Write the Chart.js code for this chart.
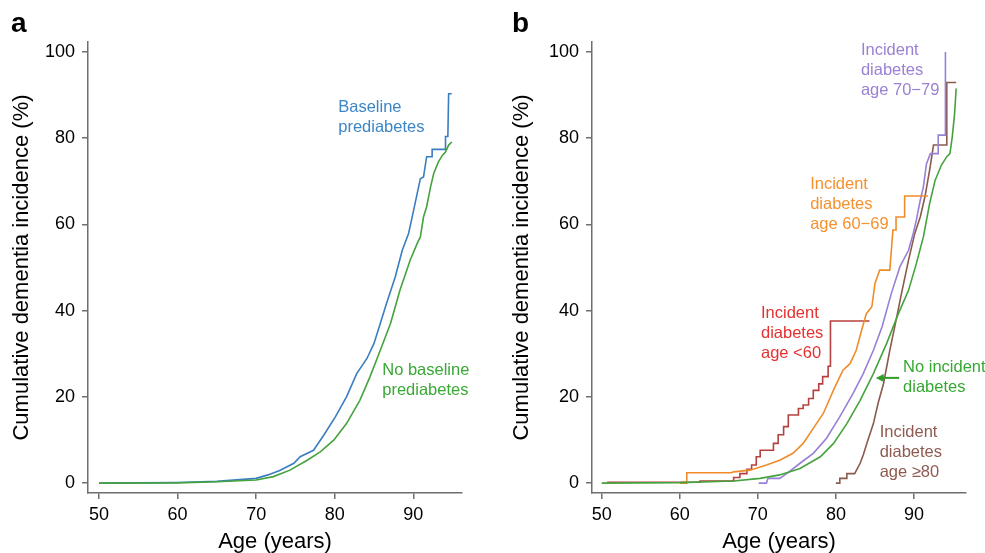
<!DOCTYPE html>
<html>
<head>
<meta charset="utf-8">
<script src="https://cdn.jsdelivr.net/npm/chart.js@4.4.1/dist/chart.umd.min.js"></script>
<style>
  html, body { margin: 0; padding: 0; background: #fff; }
  #wrap { position: relative; width: 985px; height: 553px; overflow: hidden; font-family: "Liberation Sans", Arial, sans-serif; }
  canvas { position: absolute; top: 0; }
  .tag { position: absolute; font-weight: bold; font-size: 28px; line-height: 28px; color: #000; }
</style>
</head>
<body>
<div id="wrap">
  <canvas id="pa" width="492" height="553" style="left:0"></canvas>
  <canvas id="pb" width="485" height="553" style="left:500px"></canvas>
  <div class="tag" style="left:11px;top:9px">a</div>
  <div class="tag" style="left:512px;top:9px">b</div>
</div>
<script>
/* ---- datos (edad en años, incidencia acumulada en %) ---- */
const ageTicks = [50, 60, 70, 80, 90];
const incTicks = [0, 20, 40, 60, 80, 100];

// panel a
const agePreA = [50, 60, 65, 70, 71.5, 73, 74.8, 75.6, 77.3, 78.6, 80.1, 81.5, 82.8, 84.1, 85, 85.8, 86.6, 87.7, 88.6, 89.4, 90, 90.5, 90.9, 91.3, 91.7, 92.4, 92.4, 94.1, 94.1, 94.4, 94.5, 94.9];
const incPreA = [0, 0.15, 0.4, 1.1, 1.9, 2.9, 4.6, 6.1, 7.6, 11.1, 15.4, 20, 25.4, 28.9, 32.4, 37, 41.7, 47.8, 54, 57.9, 62.9, 67.2, 70.6, 71, 75.7, 75.7, 77.4, 77.4, 80.4, 80.4, 90.3, 90.3];
const ageNoPreA = [50, 60, 65, 70, 72.2, 74.3, 76.5, 78.2, 79.9, 81.5, 83.2, 84.5, 85.8, 87.1, 88.3, 89.6, 90.5, 90.9, 91.3, 91.7, 92.2, 92.6, 93.2, 93.7, 94.1, 94.5, 94.9];
const incNoPreA = [0, 0.05, 0.3, 0.7, 1.5, 3, 5.3, 7.3, 10, 13.8, 19.2, 24.7, 30.8, 37, 44.7, 51.7, 55.6, 57.1, 61.7, 64.1, 68.7, 71.8, 74.5, 76, 76.8, 78.4, 79.1];

// panel b
const ageNone = [50, 60, 66.9, 70.3, 72.8, 75.4, 78, 79.7, 81.4, 83.1, 84.8, 86.5, 88, 89.3, 90.3, 91.2, 92, 92.7, 93.5, 94.2, 94.6, 94.9, 95.2, 95.4];
const incNone = [0, 0.1, 0.5, 1.1, 1.9, 3.4, 6.1, 9.2, 13.8, 19.2, 25.4, 32.4, 39.3, 44.7, 50.9, 57.1, 64.8, 70.2, 73.7, 75.7, 76.4, 80.3, 85.7, 91.5];
const age6069 = [60, 60.9, 60.9, 66.6, 66.9, 69, 71.1, 72.8, 74.5, 75.8, 77.1, 78.4, 79.7, 80.9, 81.8, 82.6, 83.3, 83.9, 84.6, 85, 85.6, 86.9, 87.1, 87.3, 87.7, 87.7, 88.8, 88.8, 91.8];
const inc6069 = [0, 0, 2.4, 2.4, 2.6, 3, 4.2, 5.3, 6.9, 9.2, 12.7, 16.2, 21.6, 26.2, 27.7, 30.8, 35.5, 39.3, 40.9, 46.3, 49.4, 49.4, 54, 58.7, 58.7, 61.7, 61.7, 66.6, 66.6];
const age7079 = [70.1, 71.1, 71.3, 72.8, 73.7, 75.4, 77.1, 78.8, 80.5, 82.2, 83.5, 84.8, 85.9, 87.1, 88.2, 89.3, 89.9, 90.3, 90.8, 91.2, 91.6, 92.1, 92.5, 93.1, 93.1, 94, 94, 94.05];
const inc7079 = [0, 0, 1.1, 1.1, 2.2, 4.6, 6.9, 10.4, 15.4, 20.8, 25.4, 30.8, 36.2, 44, 50.2, 54, 57.9, 61, 65.6, 68.7, 74.1, 76.4, 76.4, 76.4, 80.7, 80.7, 100, 100];
const age80 = [80, 80.5, 80.5, 81.4, 81.4, 82.4, 83.1, 83.5, 84.1, 84.8, 85.4, 86.1, 86.9, 87.8, 88.4, 89.3, 90.1, 90.8, 91.4, 92, 92.5, 94.2, 94.2, 95.4];
const inc80 = [0, 0, 1.1, 1.1, 2.2, 2.2, 4.6, 6.5, 10, 13.8, 18.5, 23.1, 30.8, 38.6, 44, 51.7, 57.9, 61.7, 66.4, 72.6, 78.4, 78.4, 92.9, 92.9];
// <60: escalones (el valor se mantiene hasta la edad siguiente)
const ageU60 = [50.8, 62.6, 66.9, 67.7, 68.6, 69.2, 69.8, 70.3, 72, 72.6, 73.3, 73.9, 75.2, 75.8, 76.5, 77.1, 77.8, 78.3, 79, 79.3, 81.2, 84.3];
const incU60 = [0, 0.2, 0.5, 1.3, 2.2, 3.2, 4.2, 6.1, 7.6, 9.2, 11.2, 13.1, 15.8, 17.3, 18.1, 19.6, 21.5, 23, 24.7, 27.1, 37.6, 37.6];

const FAMILY = '"Liberation Sans", Arial, sans-serif';
const AXIS = '#6f6f6f';

const pts = (ages, inc) => ages.map((a, i) => ({ x: a, y: inc[i] }));

function series(ages, inc, color, stepped = false) {
  return { data: pts(ages, inc), borderColor: color, borderWidth: 1.6, pointRadius: 0, tension: 0, stepped, fill: false };
}

/* textos y flecha sobre el gráfico, en unidades de datos */
function notesPlugin(notes, arrow) {
  return {
    id: 'notes',
    afterDatasetsDraw(chart) {
      const { ctx, scales: { x, y } } = chart;
      ctx.save();
      ctx.font = '16.5px ' + FAMILY;
      ctx.textAlign = 'left';
      ctx.textBaseline = 'middle';
      notes.forEach((n) => {
        ctx.fillStyle = n.color;
        n.lines.forEach((t, i) => ctx.fillText(t, x.getPixelForValue(n.age), y.getPixelForValue(n.inc) + i * 20));
      });
      if (arrow) {
        const x0 = x.getPixelForValue(arrow.from), x1 = x.getPixelForValue(arrow.to), yy = y.getPixelForValue(arrow.inc);
        ctx.strokeStyle = arrow.color; ctx.fillStyle = arrow.color; ctx.lineWidth = 2;
        ctx.beginPath(); ctx.moveTo(x0, yy); ctx.lineTo(x1 + 5, yy); ctx.stroke();
        ctx.beginPath(); ctx.moveTo(x1, yy); ctx.lineTo(x1 + 8, yy - 4); ctx.lineTo(x1 + 8, yy + 4); ctx.closePath(); ctx.fill();
      }
      ctx.restore();
    },
  };
}

function scales(xMin, xMax, yWidth) {
  return {
    x: {
      type: 'linear', min: xMin, max: xMax,
      afterBuildTicks: (s) => { s.ticks = ageTicks.map((v) => ({ value: v })); },
      afterFit: (s) => { s.height = 60; },
      grid: { drawOnChartArea: false, tickLength: 6, color: AXIS, lineWidth: 1.5 },
      border: { color: AXIS, width: 1.5 },
      ticks: { color: '#000', font: { family: FAMILY, size: 18 }, padding: 5, maxRotation: 0 },
      title: { display: true, text: 'Age (years)', color: '#000', font: { family: FAMILY, size: 22 }, padding: { top: 0, bottom: -2 } },
    },
    y: {
      type: 'linear', min: -2.3, max: 102.3,
      afterBuildTicks: (s) => { s.ticks = incTicks.map((v) => ({ value: v })); },
      afterFit: (s) => { s.width = yWidth; },
      grid: { drawOnChartArea: false, tickLength: 6, color: AXIS, lineWidth: 1.5 },
      border: { color: AXIS, width: 1.5 },
      ticks: { color: '#000', font: { family: FAMILY, size: 18 }, padding: 7 },
      title: { display: true, text: 'Cumulative dementia incidence (%)', color: '#000', font: { family: FAMILY, size: 22 }, padding: { top: 9, bottom: 0 } },
    },
  };
}

function panel(canvas, datasets, { xMin, xMax, yWidth, padRight, notes, arrow }) {
  return new Chart(canvas, {
    type: 'line',
    data: { datasets },
    options: {
      responsive: false, animation: false, devicePixelRatio: 1,
      layout: { padding: { top: 42, right: padRight, bottom: 0, left: 0 } },
      plugins: { legend: { display: false }, tooltip: { enabled: false } },
      scales: scales(xMin, xMax, yWidth),
    },
    plugins: [notesPlugin(notes, arrow)],
  });
}

panel(document.getElementById('pa'), [
  series(ageNoPreA, incNoPreA, '#45a33d'),
  series(agePreA, incPreA, '#3b7ec0'),
], {
  xMin: 48.6, xMax: 96.2, yWidth: 88, padRight: 30,
  notes: [
    { lines: ['Baseline', 'prediabetes'], age: 80.45, inc: 87.2, color: '#3c85c6' },
    { lines: ['No baseline', 'prediabetes'], age: 86.05, inc: 26.2, color: '#3aa935' },
  ],
});

panel(document.getElementById('pb'), [
  series(ageNone, incNone, '#45a33d'),
  series(age6069, inc6069, '#ef8c2a'),
  series(age7079, inc7079, '#9880d6'),
  series(ageU60, incU60, '#b5413f', 'after'),
  series(age80, inc80, '#8a5a4c'),
], {
  xMin: 48.76, xMax: 96.66, yWidth: 92, padRight: 19,
  notes: [
    { lines: ['Incident', 'diabetes', 'age 70\u221279'], age: 83.2, inc: 100.4, color: '#9b80d5' },
    { lines: ['Incident', 'diabetes', 'age 60\u221269'], age: 76.7, inc: 69.3, color: '#f5912e' },
    { lines: ['Incident', 'diabetes', 'age <60'], age: 70.4, inc: 39.4, color: '#e5312f' },
    { lines: ['No incident', 'diabetes'], age: 88.6, inc: 26.9, color: '#36a832' },
    { lines: ['Incident', 'diabetes', 'age \u226580'], age: 85.6, inc: 11.8, color: '#8f5a50' },
  ],
  arrow: { from: 88.1, to: 85.1, inc: 24.4, color: '#2f9e2a' },
});
</script>
</body>
</html>
